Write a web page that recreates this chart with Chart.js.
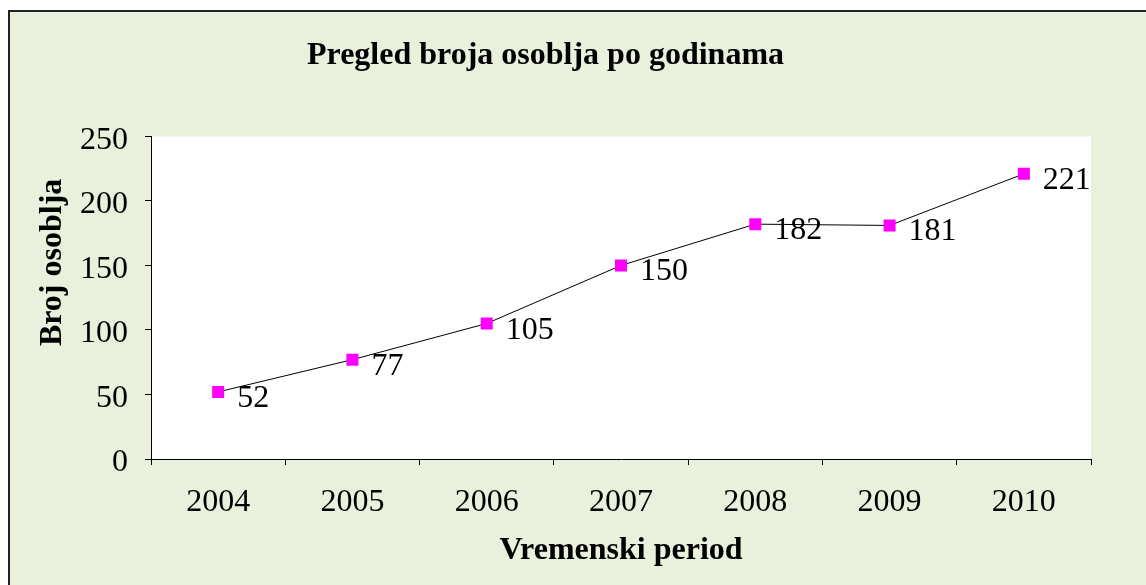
<!DOCTYPE html>
<html><head><meta charset="utf-8">
<script src="https://cdn.jsdelivr.net/npm/chart.js@4/dist/chart.umd.min.js"></script>
<style>
html,body{margin:0;padding:0;background:#fff;overflow:hidden;width:1146px;height:585px}
#frame{position:absolute;left:8px;top:10px;width:1200px;height:700px;background:#E9F0DC;border-left:2px solid #222;border-top:2px solid #222;box-sizing:border-box}
#c{position:absolute;left:0;top:0}
</style></head><body>
<div id="frame"></div>
<canvas id="c" width="1146" height="585"></canvas>
<script>
const categories = ['2004', '2005', '2006', '2007', '2008', '2009', '2010'];
const staffCounts = [52, 77, 105, 150, 182, 181, 221];
const yTickValues = [0, 50, 100, 150, 200, 250];
const chartTitle = 'Pregled broja osoblja po godinama';
const xAxisTitle = 'Vremenski period';
const yAxisTitle = 'Broj osoblja';

const SERIF = '"Liberation Serif", "Times New Roman", serif';

const plotBg = {
  id: 'plotBg',
  beforeDraw(chart) {
    const {ctx, chartArea: a} = chart;
    ctx.save();
    ctx.fillStyle = '#ffffff';
    ctx.fillRect(a.left, a.top, a.right - a.left, a.bottom - a.top);
    ctx.restore();
  }
};

const extras = {
  id: 'extras',
  afterDatasetsDraw(chart) {
    const {ctx, chartArea: a} = chart;
    ctx.save();
    // data labels
    ctx.font = '32px ' + SERIF;
    ctx.fillStyle = '#000';
    ctx.textAlign = 'left';
    ctx.textBaseline = 'alphabetic';
    const meta = chart.getDatasetMeta(0);
    meta.data.forEach((pt, i) => {
      ctx.fillText(String(chart.data.datasets[0].data[i]), pt.x + 19, pt.y + 15);
    });
    // axis titles
    ctx.font = 'bold 32px ' + SERIF;
    ctx.textAlign = 'center';
    ctx.textBaseline = 'middle';
    ctx.fillText(xAxisTitle, (a.left + a.right) / 2, a.bottom + 92);
    ctx.translate(a.left - 98, a.top + 126);
    ctx.rotate(-Math.PI / 2);
    ctx.fillText(yAxisTitle, 0, 0);
    ctx.restore();
  }
};

new Chart(document.getElementById('c'), {
  type: 'line',
  data: {
    labels: categories,
    datasets: [{
      data: staffCounts,
      borderColor: '#000',
      borderWidth: 1,
      pointStyle: 'rect',
      pointRadius: 8.5,
      pointBackgroundColor: '#FF00FF',
      pointBorderColor: '#FF00FF',
      pointBorderWidth: 0,
      tension: 0
    }]
  },
  options: {
    responsive: false,
    animation: false,
    events: [],
    layout: {padding: {left: 0, right: 55, top: 0, bottom: 0}},
    plugins: {
      legend: {display: false},
      tooltip: {enabled: false},
      title: {
        display: true,
        text: chartTitle,
        color: '#000',
        font: {family: SERIF, size: 32, weight: 'bold'},
        padding: {top: 37, bottom: 61}
      }
    },
    scales: {
      x: {
        type: 'category',
        offset: true,
        grid: {offset: true, drawOnChartArea: false, drawTicks: true, tickLength: 6, color: '#000', tickColor: '#000'},
        border: {display: true, color: '#000', width: 1},
        ticks: {color: '#000', font: {family: SERIF, size: 32}, padding: 18, maxRotation: 0, autoSkip: false},
        afterFit(s) { s.height = 126; }
      },
      y: {
        min: 0,
        max: 250,
        afterBuildTicks(s) { s.ticks = yTickValues.map(v => ({value: v})); },
        grid: {drawOnChartArea: false, drawTicks: true, tickLength: 6, color: '#000', tickColor: '#000'},
        border: {display: true, color: '#000', width: 1},
        ticks: {color: '#000', font: {family: SERIF, size: 32}, padding: 17, labelOffset: 4},
        afterFit(s) { s.width = 151; }
      }
    }
  },
  plugins: [plotBg, extras]
});
</script>
</body></html>
